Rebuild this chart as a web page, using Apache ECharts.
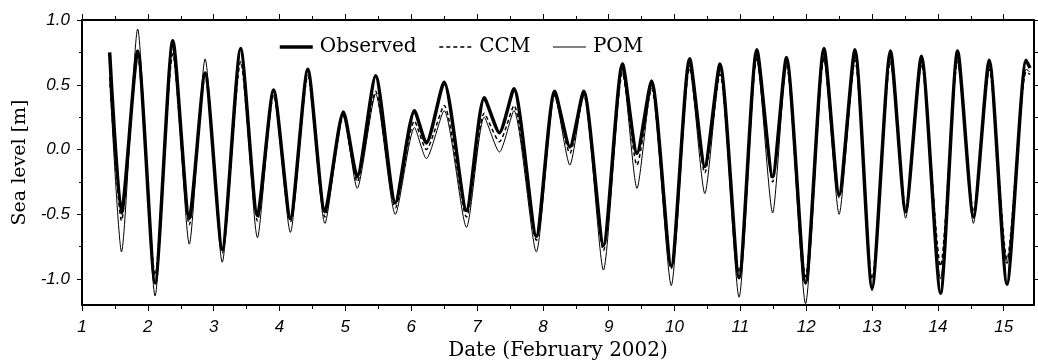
<!DOCTYPE html>
<html>
<head>
<meta charset="utf-8">
<script src="https://cdn.jsdelivr.net/npm/echarts@6/dist/echarts.min.js"></script>
<style>
  html, body { margin: 0; padding: 0; background: #fff; }
  #chart { width: 1038px; height: 361px; }
</style>
</head>
<body>
<div id="chart"></div>
<script>
// Times of successive high and low waters (day of February 2002)
const tideTimes = [
  1.42, 1.60, 1.845, 2.11, 2.38, 2.63, 2.87, 3.13, 3.41, 3.665,
  3.91, 4.165, 4.43, 4.69, 4.97, 5.18, 5.46, 5.76, 6.05, 6.23,
  6.50, 6.84, 7.11, 7.34, 7.56, 7.90, 8.18, 8.41, 8.62, 8.92,
  9.21, 9.43, 9.65, 9.95, 10.23, 10.46, 10.69, 10.98, 11.25, 11.49,
  11.70, 11.99, 12.27, 12.50, 12.74, 13.00, 13.28, 13.51, 13.75, 14.04,
  14.30, 14.54, 14.78, 15.05, 15.34, 15.40
];

// Sea level [m] at those times
const observed = [
  0.75, -0.49, 0.76, -1.03, 0.84, -0.53, 0.59, -0.77, 0.78, -0.51,
  0.46, -0.53, 0.62, -0.48, 0.29, -0.21, 0.57, -0.41, 0.30, 0.05,
  0.52, -0.47, 0.40, 0.13, 0.47, -0.67, 0.45, 0.02, 0.45, -0.74,
  0.66, -0.03, 0.53, -0.90, 0.70, -0.13, 0.66, -0.99, 0.77, -0.21,
  0.71, -1.03, 0.78, -0.35, 0.77, -1.07, 0.76, -0.48, 0.72, -1.11,
  0.76, -0.52, 0.69, -1.04, 0.69, 0.63
];
const ccm = [
  0.56, -0.55, 0.72, -0.97, 0.74, -0.58, 0.57, -0.80, 0.68, -0.55,
  0.42, -0.56, 0.57, -0.52, 0.26, -0.25, 0.45, -0.45, 0.22, 0.00,
  0.34, -0.52, 0.28, 0.06, 0.34, -0.70, 0.42, -0.03, 0.42, -0.78,
  0.59, -0.12, 0.47, -0.92, 0.63, -0.18, 0.58, -0.95, 0.70, -0.25,
  0.65, -0.98, 0.70, -0.37, 0.69, -1.00, 0.68, -0.45, 0.66, -0.90,
  0.68, -0.48, 0.62, -0.85, 0.60, 0.58
];
const pom = [
  0.55, -0.79, 0.93, -1.13, 0.83, -0.73, 0.70, -0.87, 0.79, -0.68,
  0.45, -0.64, 0.61, -0.57, 0.28, -0.30, 0.43, -0.50, 0.17, -0.07,
  0.30, -0.60, 0.25, -0.02, 0.30, -0.79, 0.43, -0.12, 0.44, -0.93,
  0.62, -0.30, 0.50, -1.05, 0.65, -0.34, 0.62, -1.14, 0.72, -0.49,
  0.68, -1.19, 0.72, -0.50, 0.72, -1.09, 0.71, -0.53, 0.68, -1.00,
  0.71, -0.57, 0.65, -0.88, 0.62, 0.60
];

// Axis ticks
const dayTicks = [1, 2, 3, 4, 5, 6, 7, 8, 9, 10, 11, 12, 13, 14, 15];
const halfDayTicks = [1.5, 2.5, 3.5, 4.5, 5.5, 6.5, 7.5, 8.5, 9.5, 10.5, 11.5, 12.5, 13.5, 14.5];
const levelTicks = [-1.0, -0.5, 0.0, 0.5, 1.0];
const levelMinorTicks = [-0.75, -0.25, 0.25, 0.75];

const X_MIN = 1, X_MAX = 15.46, Y_MIN = -1.2, Y_MAX = 1.0;

const pairs = (vals) => tideTimes.map((t, i) => [t, vals[i]]);

const tickFont = { fontFamily: 'Liberation Sans', fontStyle: 'italic', fontSize: 17, color: '#000' };
const titleFont = { fontFamily: 'DejaVu Serif', fontSize: 20, color: '#000' };
const noFill = 'rgba(0,0,0,0)';

// Line styles shared by series and legend samples
const styles = {
  Observed: { color: '#000', width: 3.5, type: 'solid' },
  CCM: { color: '#000', width: 1.5, type: [4, 3] },
  POM: { color: '#000', width: 1, type: 'solid' }
};

function makeXAxis(position, ticks, len, withLine, withLabels) {
  const ax = {
    type: 'value', min: X_MIN, max: X_MAX, position: position,
    axisLine: { show: withLine, onZero: false, lineStyle: { color: '#000', width: 2 } },
    axisTick: { show: true, customValues: ticks, length: len, inside: false, lineStyle: { color: '#000', width: 1 } },
    axisLabel: withLabels
      ? Object.assign({ show: true, customValues: ticks, margin: 14, formatter: (v) => String(v) }, tickFont)
      : { show: false },
    splitLine: { show: false }
  };
  if (withLabels) {
    ax.name = 'Date (February 2002)';
    ax.nameLocation = 'middle';
    ax.nameGap = 35;
    ax.nameTextStyle = titleFont;
  }
  return ax;
}

function makeYAxis(position, ticks, len, withLine, withLabels) {
  const ax = {
    type: 'value', min: Y_MIN, max: Y_MAX, position: position,
    axisLine: { show: withLine, onZero: false, lineStyle: { color: '#000', width: 2 } },
    axisTick: { show: true, customValues: ticks, length: len, inside: false, lineStyle: { color: '#000', width: 1 } },
    axisLabel: withLabels
      ? Object.assign({ show: true, customValues: ticks, margin: 12, formatter: (v) => v.toFixed(1) }, tickFont)
      : { show: false },
    splitLine: { show: false }
  };
  if (withLabels) {
    ax.name = 'Sea level [m]';
    ax.nameLocation = 'middle';
    ax.nameGap = 52;
    ax.nameTextStyle = Object.assign({}, titleFont, { fontSize: 19 });
  }
  return ax;
}

const chart = echarts.init(document.getElementById('chart'), null, { renderer: 'canvas' });

const seriesOrder = ['POM', 'CCM', 'Observed'];
const seriesValues = { Observed: observed, CCM: ccm, POM: pom };

chart.setOption({
  backgroundColor: '#fff',
  animation: false,
  grid: { left: 82, right: 4, top: 20, bottom: 56, containLabel: false, outerBoundsMode: 'none' },
  legend: {
    data: ['Observed', 'CCM', 'POM'].map((n) => ({ name: n, lineStyle: styles[n] })),
    left: 278, top: 37, padding: 0,
    itemWidth: 33, itemHeight: 14, itemGap: 22,
    itemStyle: { color: noFill, borderWidth: 0 },
    textStyle: Object.assign({ padding: [0, 0, 0, 2] }, titleFont),
    selectedMode: false
  },
  xAxis: [
    makeXAxis('bottom', dayTicks, 6, true, true),
    makeXAxis('bottom', halfDayTicks, 4, false, false),
    makeXAxis('top', dayTicks, 6, true, false),
    makeXAxis('top', halfDayTicks, 4, false, false)
  ],
  yAxis: [
    makeYAxis('left', levelTicks, 5, true, true),
    makeYAxis('left', levelMinorTicks, 3, false, false),
    makeYAxis('right', levelTicks, 4, true, false),
    makeYAxis('right', levelMinorTicks, 4, false, false)
  ],
  series: seriesOrder.map((n) => ({
    name: n, type: 'line', data: pairs(seriesValues[n]),
    xAxisIndex: 0, yAxisIndex: 0, symbol: 'none', smooth: 0.22,
    lineStyle: styles[n], itemStyle: { color: noFill }
  }))
});
</script>
</body>
</html>
